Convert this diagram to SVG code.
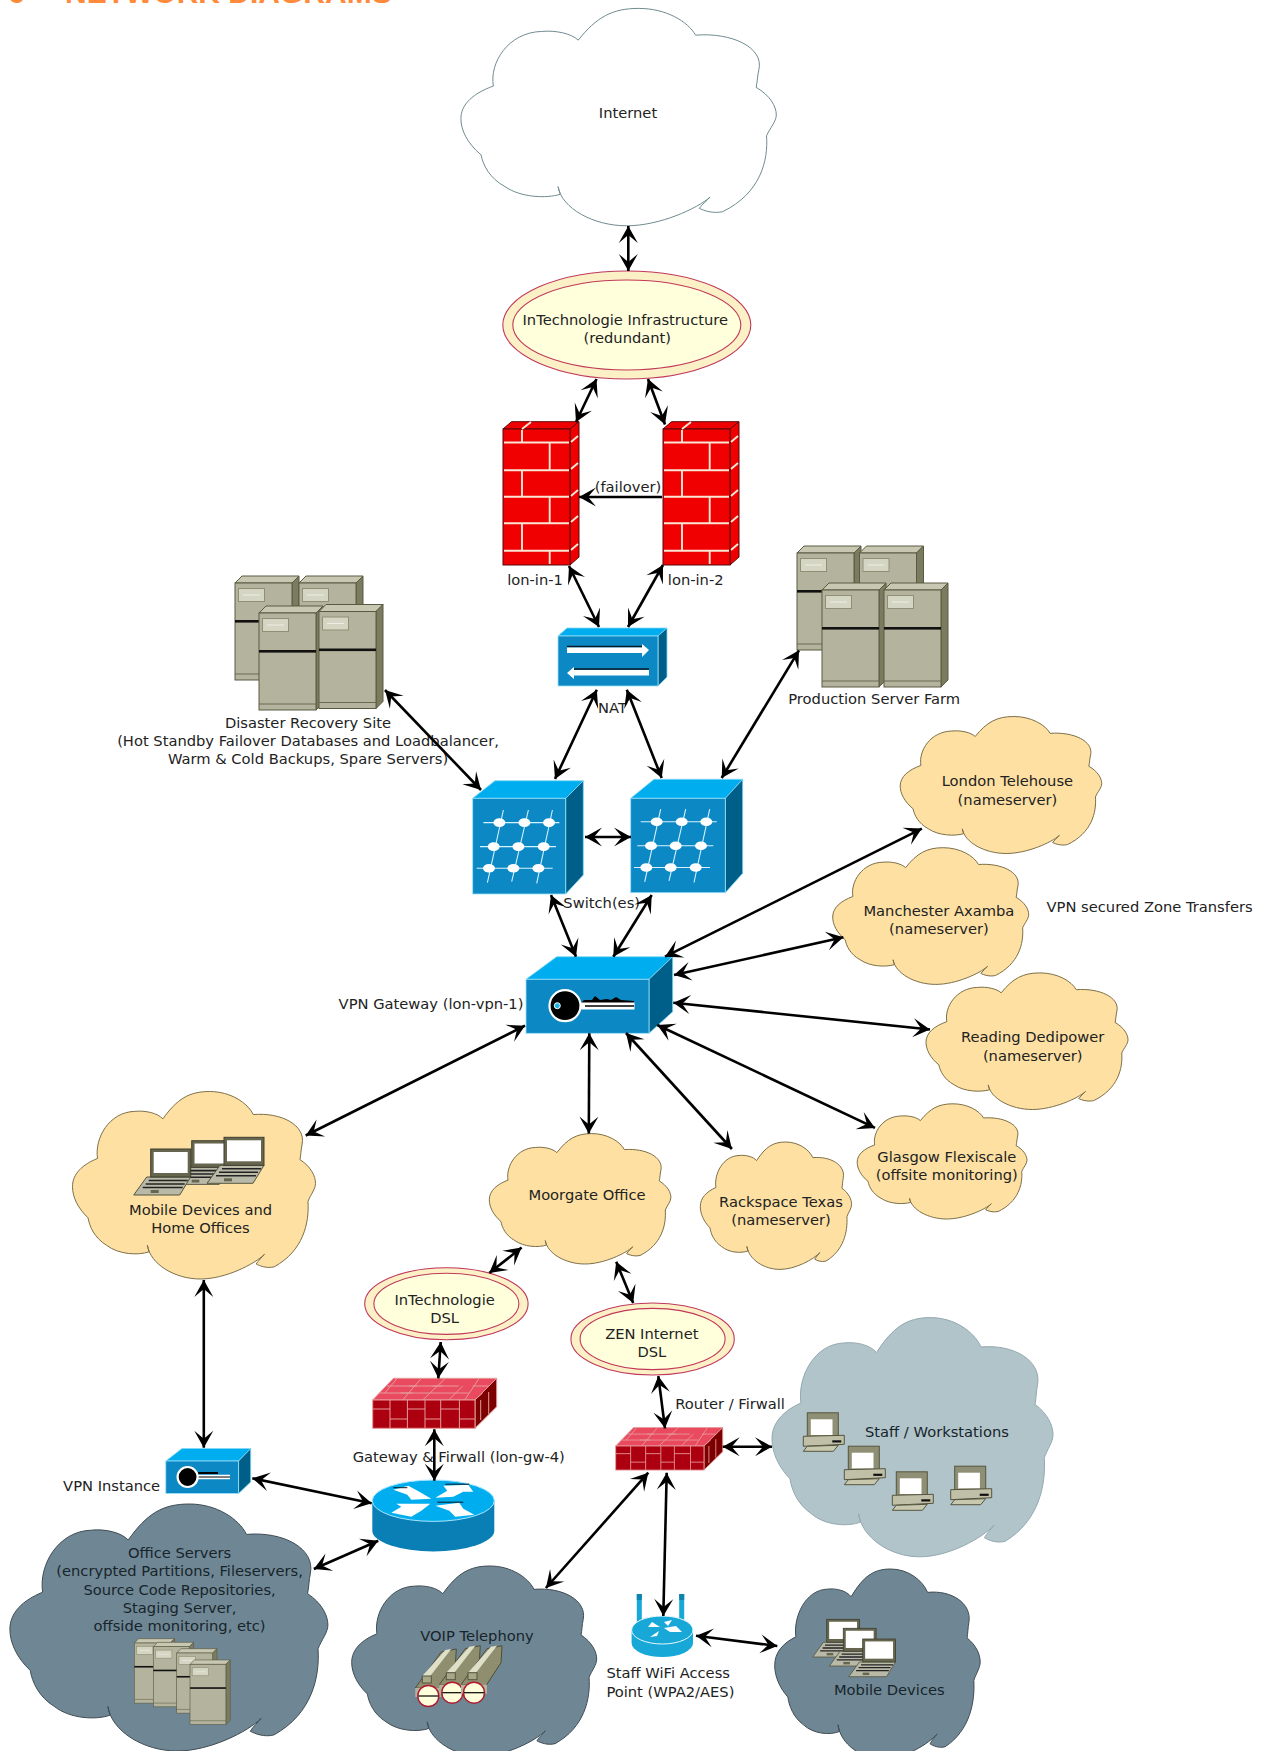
<svg xmlns="http://www.w3.org/2000/svg" width="1267" height="1751" viewBox="0 0 1267 1751">
<style>
text{font-family:"DejaVu Sans","Liberation Sans",sans-serif;font-size:14.7px;fill:#222;text-anchor:middle}
.l{text-anchor:start}
.dk{fill:#17242b}
.title{font-family:"Liberation Sans",Arial,sans-serif;font-weight:bold;font-size:30px;fill:#ff8a3c;text-anchor:start}
.shape{vector-effect:non-scaling-stroke}
.white{fill:#fff;stroke:#6f8b90;stroke-width:1}
.tan{fill:#fde0a2;stroke:#7d6f48;stroke-width:1}
.pale{fill:#b0c4ca;stroke:#93a9af;stroke-width:1}
.dark{fill:#6f8794;stroke:#3f4c53;stroke-width:1}
.ct{fill:#00aeef;stroke:#7fd8f8;stroke-width:.8}
.cf{fill:#0c88c4;stroke:#9be2fb;stroke-width:.8}
.cs{fill:#005f88;stroke:#7fd8f8;stroke-width:.8}
.a{fill:none;stroke:#000;stroke-width:2.6;marker-start:url(#h);marker-end:url(#h)}
.m{stroke:#fbe6d6;stroke-width:1.9;fill:none}
.g{stroke:#d5f2ff;stroke-width:1.1;fill:none}
.bm{stroke:#e59a9a;stroke-width:1;fill:none}
.e1{fill:#fcf0c6;stroke:#c0395a;stroke-width:1.1}
.e2{fill:#ffffdc;stroke:#c0395a;stroke-width:1.1}
</style>
<defs>
<marker id="h" viewBox="-18 -11 19 22" refX="0" refY="0" markerWidth="19" markerHeight="22" markerUnits="userSpaceOnUse" orient="auto-start-reverse"><path d="M0 0L-17 -9.5L-9 0L-17 9.5Z" fill="#000"/></marker>
<path id="cloud" class="shape" d="M37.2 14.6C43 4 48 0 56.4 0C65 0 72 6 74.4 12.3C86 11 96 18 94.5 28C94 31 94 34 93.6 36.3C98 40 100 45 100 49C100 52 98 55 96.9 58.6C97.5 70 95 85 83 93.5C80 94.5 77 93 75.6 92C76.5 90 78 88.5 79 86.8C75 92 63 100 52.6 100C42 100 32 92 30.8 82L31.5 85.5C27 87.5 19 87 14 82C9 78 7 72 6.4 67.4C2 62 0 56 0 50.7C0 44 4 39 10.3 35.7C9 25 15 11 25.6 10.6C30 10 35 11.5 37.2 14.6Z"/>
<g id="fwt">
<polygon points="0,0 8.5,-7.3 76,-7.3 67,0" fill="#f00000" stroke="#5a0808"/>
<polygon points="67,0 76,-7.3 76,128 67,136" fill="#f00000" stroke="#5a0808"/>
<rect width="67" height="136" fill="#f00000" stroke="#5a0808"/>
<path class="m" d="M1 13.5H66M1 41.3H66M1 67.7H66M1 94.3H66M1 121.7H66M19 1V13.5M19 41.3V67.7M19 94.3V121.7M46.7 13.5V41.3M46.7 67.7V94.3M46.7 121.7V135M19 0L28 -7M68 13L75 7M68 40L75 34M68 67L75 61M68 93L75 87M68 121L75 115"/>
</g>
<g id="grid">
<path class="g" d="M10.7 24.3H86.7M7.3 48.3H83.3M4 70H80M30.7 11.7L14.7 84.3M55.7 11.7L39 83.3M79.7 11.7L64 85"/>
<g fill="#fff"><ellipse cx="26.7" cy="24.3" rx="6" ry="4.3"/><ellipse cx="51.7" cy="24.3" rx="6" ry="4.3"/><ellipse cx="76.3" cy="24.3" rx="6" ry="4.3"/><ellipse cx="21" cy="48.3" rx="6" ry="4.3"/><ellipse cx="45.7" cy="48.3" rx="6" ry="4.3"/><ellipse cx="71" cy="48.3" rx="6" ry="4.3"/><ellipse cx="16.3" cy="70" rx="6" ry="4.3"/><ellipse cx="40.7" cy="70" rx="6" ry="4.3"/><ellipse cx="65.7" cy="70" rx="6" ry="4.3"/></g>
</g>
<g id="fwb">
<polygon points="0,0 20.7,-21.7 124,-21.7 102.3,0" fill="#ea4a60" stroke="#e59a9a"/>
<polygon points="102.3,0 124,-21.7 124,6.7 102.3,28.3" fill="#7c0000" stroke="#e59a9a"/>
<rect width="102.3" height="28.3" fill="#ac0010" stroke="#e59a9a"/>
<path class="bm" d="M17.3 0V28.3M34.7 0V28.3M52.3 0V28.3M68 0V28.3M86.7 0V28.3M0 9H17.3M17.3 19H34.7M34.7 9H52.3M52.3 19H68M68 9H86.7M86.7 19H102.3M7 -7H30L40 -7M28 -7H50M50 -7H74M74 -7H96M14 -14H44M60 -14H86M100 -14H116M24 -21L12 -7M48 -21L30 0M72 -21L50 0M90 -14L76 0M106 -21L92 0M36 -14H70M110 -7L102 0M108 0V20M116 -8V14"/>
</g>
<g id="rtr">
<path d="M-61 0V30A61 20.7 0 0 0 61 30V0Z" fill="#0a7fb5"/>
<ellipse rx="61" ry="20.7" fill="#00aeef" stroke="#a8e6ff" stroke-width="1"/>
<g fill="#fff"><polygon points="-40,-11 -25,-15 -14,-9 -2,-2 -22,-1 -26,-6"/><polygon points="2,-3 14,-10 10,-15 35,-16 40,-9 30,-9 20,-4"/><polygon points="-42,12 -32,6 -37,3 -3,3 -12,10 -22,16"/><polygon points="2,5 26,2 30,8 41,14 22,16 16,10"/></g>
<path d="M12 -16.5H36M4 1.5H30M-40 -13H-26" stroke="#0b1a24" stroke-width="1" fill="none"/>
</g>
<g id="srv">
<polygon points="0,0 7,-7 64,-7 57,0" fill="#c8c8b2" stroke="#5a5a42"/>
<polygon points="57,0 64,-7 64,90 57,97" fill="#7b7b60" stroke="#5a5a42"/>
<rect width="57" height="97" fill="#b4b49e" stroke="#5a5a42"/>
<rect x="3.5" y="5.5" width="26" height="13" fill="#d5d5c4" stroke="#8f8f76"/>
<path d="M8 12H25" stroke="#eeeee4" stroke-width="1"/>
<rect y="37" width="57" height="2.6" fill="#111"/>
<path d="M0 91H57" stroke="#6a6a50"/>
</g>
<g id="lap">
<polygon points="-17,46 -4,28 40,28 29,46" fill="#b9b9a8" stroke="#55553f"/>
<rect width="40" height="28" fill="#66664f" stroke="#3f3f30"/>
<rect x="3" y="3" width="34" height="21" fill="#fff"/>
<path d="M-2 31.5H37M-5 35H34M-8 38.5H32" stroke="#222" stroke-width="1.6"/>
<rect x="0" y="41" width="8" height="3" fill="#66664f"/>
</g>
<g id="pc">
<rect x="-1" y="-0.5" width="31" height="24" fill="#8f8f76" stroke="#55553f"/>
<rect x="2.5" y="6" width="21.7" height="15.7" fill="#fff"/>
<polygon points="-5,23 36,22 36,31 -5,33" fill="#c0c0a8" stroke="#55553f"/>
<rect x="24" y="27" width="9" height="2.2" fill="#111"/>
<polygon points="-5,38 -1,33 30,32 25,38" fill="#c8c8ae" stroke="#55553f"/>
</g>
<g id="phn">
<polygon points="-13,-8 13,-44 28,-47 27,-30 12,-7" fill="#8f8f70" stroke="#4d4d38"/>
<polygon points="-6,-20 17,-46 23,-47 2,-20" fill="#e0e0c8"/>
<rect x="-6" y="-20" width="9" height="7" fill="#a8a888" stroke="#55553f"/>
<rect x="-13" y="-8" width="26" height="9" fill="#b4b49e"/>
<circle r="10.5" fill="#ffffdc" stroke="#b01830" stroke-width="1.4"/>
<path d="M-10 0H10" stroke="#000" stroke-width="1.2"/>
</g>
</defs>
<rect width="1267" height="1751" fill="#fff"/>
<g id="title"><text class="title" x="8" y="3">6</text><text class="title" x="65" y="3">NETWORK DIAGRAMS</text></g>

<g id="internet"><use href="#cloud" class="white" transform="translate(460.9 8.4) scale(3.154 2.174)"/><text x="628" y="118">Internet</text></g>
<g id="infra"><ellipse class="e1" cx="626.8" cy="325" rx="124" ry="54"/><ellipse class="e2" cx="626.8" cy="325" rx="114" ry="45"/><text x="625.3" y="324.5">InTechnologie Infrastructure</text><text x="627.3" y="342.5">(redundant)</text></g>
<g id="fw1"><use href="#fwt" transform="translate(503 429)"/><text x="535" y="585">lon-in-1</text></g>
<g id="fw2"><use href="#fwt" transform="translate(663 429)"/><text x="695.7" y="585">lon-in-2</text></g>
<text x="628" y="492">(failover)</text>
<g id="nat">
<polygon class="ct" points="558,636 567,628 667,628 658,636"/><polygon class="cs" points="658,636 667,628 667,677 658,686"/><rect class="cf" x="558" y="636" width="100" height="50"/>
<path d="M567 646.5H643" stroke="#0b1a24" stroke-width="1.5"/><polygon points="567,647.5 642,647.5 642,644 649,650 642,657 642,653 567,653" fill="#fff"/>
<path d="M574 669H649" stroke="#0b1a24" stroke-width="1.5"/><polygon points="649,670 574,670 574,667 567,673 574,679 574,675.5 649,675.5" fill="#fff"/>
<text x="612.5" y="712.6">NAT</text></g>
<g id="dr">
<use href="#srv" transform="translate(235 583)"/><use href="#srv" transform="translate(299 583)"/><use href="#srv" transform="translate(259 613)"/><use href="#srv" transform="translate(319 611.5)"/>
<text x="308" y="727.6">Disaster Recovery Site</text><text x="308" y="746">(Hot Standby Failover Databases and Loadbalancer,</text><text x="308" y="764.3">Warm &amp; Cold Backups, Spare Servers)</text></g>
<g id="farm">
<use href="#srv" transform="translate(797 553)"/><use href="#srv" transform="translate(859.5 553)"/><use href="#srv" transform="translate(822 590)"/><use href="#srv" transform="translate(884 590)"/>
<text x="874.2" y="704">Production Server Farm</text></g>
<g id="sw1">
<polygon class="ct" points="472.7,798.3 495,780.7 583.3,780.7 565.7,798.3"/><polygon class="cs" points="565.7,798.3 583.3,780.7 583.3,875 565.7,894"/><rect class="cf" x="472.7" y="798.3" width="93" height="95.7"/>
<use href="#grid" transform="translate(472.7 798.3)"/></g>
<g id="sw2">
<polygon class="ct" points="630.7,798.3 654,779.3 742.7,779.3 725.3,798.3"/><polygon class="cs" points="725.3,798.3 742.7,779.3 742.7,873.3 725.3,892.7"/><rect class="cf" x="630.7" y="798.3" width="94.6" height="94.4"/>
<use href="#grid" transform="translate(630 797.5)"/></g>
<text x="601.7" y="908.3">Switch(es)</text>
<g id="vpn">
<polygon class="ct" points="526,979.3 556.7,956.7 672.7,956.7 649,979.3"/><polygon class="cs" points="649,979.3 672.7,956.7 672.7,1011.7 649,1033.3"/><rect class="cf" x="526" y="979.3" width="123" height="54"/>
<polygon points="581,1003 584,1000 592,1000 595,996 600,1000 607,999 611,1000 616,997 621,1000 634,1001 634,1003" fill="#000"/>
<rect x="581" y="1002.5" width="53.5" height="7" fill="#fff"/><path d="M585 1006H634" stroke="#000" stroke-width="1.4"/>
<circle cx="565" cy="1005.7" r="15.5" fill="#000" stroke="#fff" stroke-width="2.2"/><circle cx="557.3" cy="1005.7" r="3" fill="#1fb3e3" stroke="#fff"/>
<text x="431" y="1009">VPN Gateway (lon-vpn-1)</text></g>
<g id="london"><use href="#cloud" class="tan" transform="translate(900.2 716.5) scale(2.015 1.37)"/><text x="1007.4" y="786">London Telehouse</text><text x="1007.4" y="804.5">(nameserver)</text></g>
<g id="manchester"><use href="#cloud" class="tan" transform="translate(832.7 847.7) scale(1.96 1.367)"/><text x="938.9" y="915.5">Manchester Axamba</text><text x="938.9" y="934">(nameserver)</text></g>
<text class="l" x="1046.5" y="912.4">VPN secured Zone Transfers</text>
<g id="reading"><use href="#cloud" class="tan" transform="translate(926 972.9) scale(2.02 1.366)"/><text x="1032.7" y="1041.8">Reading Dedipower</text><text x="1032.7" y="1060.5">(nameserver)</text></g>
<g id="glasgow"><use href="#cloud" class="tan" transform="translate(857.2 1103.8) scale(1.698 1.152)"/><text x="946.8" y="1161.5">Glasgow Flexiscale</text><text x="946.8" y="1179.5">(offsite monitoring)</text></g>
<g id="rackspace"><use href="#cloud" class="tan" transform="translate(700.3 1142) scale(1.513 1.274)"/><text x="781" y="1206.6">Rackspace Texas</text><text x="781" y="1225">(nameserver)</text></g>
<g id="moorgate"><use href="#cloud" class="tan" transform="translate(489.3 1133.6) scale(1.816 1.304)"/><text x="587" y="1199.8">Moorgate Office</text></g>
<g id="homeoffices"><use href="#cloud" class="tan" transform="translate(72.5 1091.5) scale(2.43 1.875)"/>
<use href="#lap" transform="translate(191.7 1140.7) scale(.95)"/><use href="#lap" transform="translate(150.7 1149)"/><use href="#lap" transform="translate(224 1137.3)"/>
<text x="200.5" y="1215">Mobile Devices and</text><text x="200.5" y="1233.4">Home Offices</text></g>
<g id="dsl1"><ellipse class="e1" cx="446.4" cy="1303.8" rx="81.7" ry="36"/><ellipse class="e2" cx="446.4" cy="1303.8" rx="72.5" ry="30.6"/><text x="444.6" y="1305">InTechnologie</text><text x="444.6" y="1323">DSL</text></g>
<g id="dsl2"><ellipse class="e1" cx="652.6" cy="1339" rx="81.7" ry="36"/><ellipse class="e2" cx="652.6" cy="1339" rx="72.5" ry="30.6"/><text x="651.8" y="1339.4">ZEN Internet</text><text x="651.8" y="1357.4">DSL</text></g>
<g id="gw"><use href="#fwb" transform="translate(372.7 1400)"/><text class="l" x="352.7" y="1462">Gateway &amp; Firwall (lon-gw-4)</text></g>
<g id="routerfw"><use href="#fwb" transform="translate(615.7 1446) scale(.863 .85)"/><text class="l" x="675.3" y="1408.7">Router / Firwall</text></g>
<g id="staff"><use href="#cloud" class="pale" transform="translate(772 1317.6) scale(2.81 2.392)"/>
<use href="#pc" transform="translate(808.3 1413.3)"/><use href="#pc" transform="translate(849.3 1446.7)"/><use href="#pc" transform="translate(897.3 1472.3)"/><use href="#pc" transform="translate(955.7 1466.7)"/>
<text class="l dk" x="865" y="1437">Staff / Workstations</text></g>
<g id="vpninst">
<polygon class="ct" points="165.8,1461 182,1448.5 250.7,1448.5 238.6,1461"/><polygon class="cs" points="238.6,1461 250.7,1448.5 250.7,1482 238.6,1493.5"/><rect class="cf" x="165.8" y="1461" width="72.8" height="32.5"/>
<path d="M194 1477H230" stroke="#fff" stroke-width="4.5"/><path d="M197 1477H230" stroke="#000" stroke-width="1"/><path d="M198 1473H218" stroke="#000" stroke-width="2"/><circle cx="187.6" cy="1477" r="10" fill="#000" stroke="#fff" stroke-width="2.2"/>
<text class="l" x="63.1" y="1491.4">VPN Instance</text></g>
<g id="router"><use href="#rtr" transform="translate(433.3 1500.7)"/></g>
<g id="office"><use href="#cloud" class="dark" transform="translate(9.9 1504) scale(3.18 2.47)"/>
<use href="#srv" transform="translate(134.3 1643) scale(.63 .62)"/><use href="#srv" transform="translate(153.3 1646.7) scale(.63 .62)"/><use href="#srv" transform="translate(176.7 1653) scale(.63 .62)"/><use href="#srv" transform="translate(190 1664.3) scale(.63 .62)"/>
<text class="dk" x="179.6" y="1558">Office Servers</text><text class="dk" x="179.6" y="1576.3">(encrypted Partitions, Fileservers,</text><text class="dk" x="179.6" y="1594.7">Source Code Repositories,</text><text class="dk" x="179.6" y="1613">Staging Server,</text><text class="dk" x="179.6" y="1631.4">offside monitoring, etc)</text></g>
<g id="voip"><use href="#cloud" class="dark" transform="translate(351.7 1566) scale(2.45 1.9)"/>
<use href="#phn" transform="translate(428.3 1696)"/><use href="#phn" transform="translate(452.3 1692.7)"/><use href="#phn" transform="translate(474 1692.7)"/>
<text class="dk" x="477" y="1640.6">VOIP Telephony</text></g>
<g id="wifi">
<path d="M639.3 1594V1622M681.7 1594V1622" stroke="#18a8d8" stroke-width="5"/><path d="M639.3 1594V1600M681.7 1594V1600" stroke="#0d84b0" stroke-width="5"/>
<path d="M631.6 1630V1643A30.7 14 0 0 0 693 1643V1630Z" fill="#18a8d8"/><ellipse cx="662.3" cy="1630" rx="30.7" ry="14" fill="#18a8d8" stroke="#e8f8ff"/>
<g fill="#fff"><polygon points="652,1622 660,1627 648,1627"/><polygon points="664,1628 676,1626 682,1632 670,1632"/><polygon points="650,1637 659,1631 657,1636"/><polygon points="664,1622 672,1620 668,1626"/></g>
<text class="l" x="606.4" y="1678">Staff WiFi Access</text><text class="l" x="606.4" y="1696.5">Point (WPA2/AES)</text></g>
<g id="mobile"><use href="#cloud" class="dark" transform="translate(774.7 1569) scale(2.055 1.9)"/>
<use href="#lap" transform="translate(826.7 1619.3) scale(.82)"/><use href="#lap" transform="translate(843.3 1628.3) scale(.82)"/><use href="#lap" transform="translate(862.7 1639) scale(.82)"/>
<text class="dk" x="889.3" y="1695">Mobile Devices</text></g>

<g id="connectors">
<path class="a" d="M628.3 226V271"/>
<path class="a" d="M596.5 379L576 422"/>
<path class="a" d="M648 379L665 424.5"/>
<path d="M662 497H579" fill="none" stroke="#000" stroke-width="2.6" marker-end="url(#h)"/>
<path class="a" d="M569 566L599 627"/>
<path class="a" d="M663 565L628 627"/>
<path class="a" d="M596.8 689.7L555 779"/>
<path class="a" d="M626.8 689.7L661.7 778"/>
<path class="a" d="M799 650.3L721.7 778"/>
<path class="a" d="M385 690L481 790"/>
<path class="a" d="M585 837H631"/>
<path class="a" d="M551 895L576 956.7"/>
<path class="a" d="M651.7 895L613.3 956.7"/>
<path class="a" d="M921.9 828.6L665 956.7"/>
<path class="a" d="M843.4 937.3L674 975"/>
<path class="a" d="M930 1029.5L673.3 1002.7"/>
<path class="a" d="M875 1127.9L657.3 1025"/>
<path class="a" d="M731.9 1149L626 1033"/>
<path class="a" d="M588.8 1133.6L589.3 1033.3"/>
<path class="a" d="M305.7 1135.5L525 1025.7"/>
<path class="a" d="M203.8 1280V1447.7"/>
<path class="a" d="M521.6 1247.6L489.3 1273"/>
<path class="a" d="M616.2 1261.7L633.2 1303"/>
<path class="a" d="M440.7 1342L438.3 1378.3"/>
<path class="a" d="M434.3 1429.3V1480.7"/>
<path class="a" d="M658.3 1376L665 1428.3"/>
<path class="a" d="M722.7 1446.7H772"/>
<path class="a" d="M648.3 1472.7L545.9 1588"/>
<path class="a" d="M666.7 1472.7L663.3 1616"/>
<path class="a" d="M696 1635.7L777.3 1646"/>
<path class="a" d="M252.3 1478.3L371.7 1503.3"/>
<path class="a" d="M313.8 1569L378.3 1540.7"/>
</g>
</svg>
